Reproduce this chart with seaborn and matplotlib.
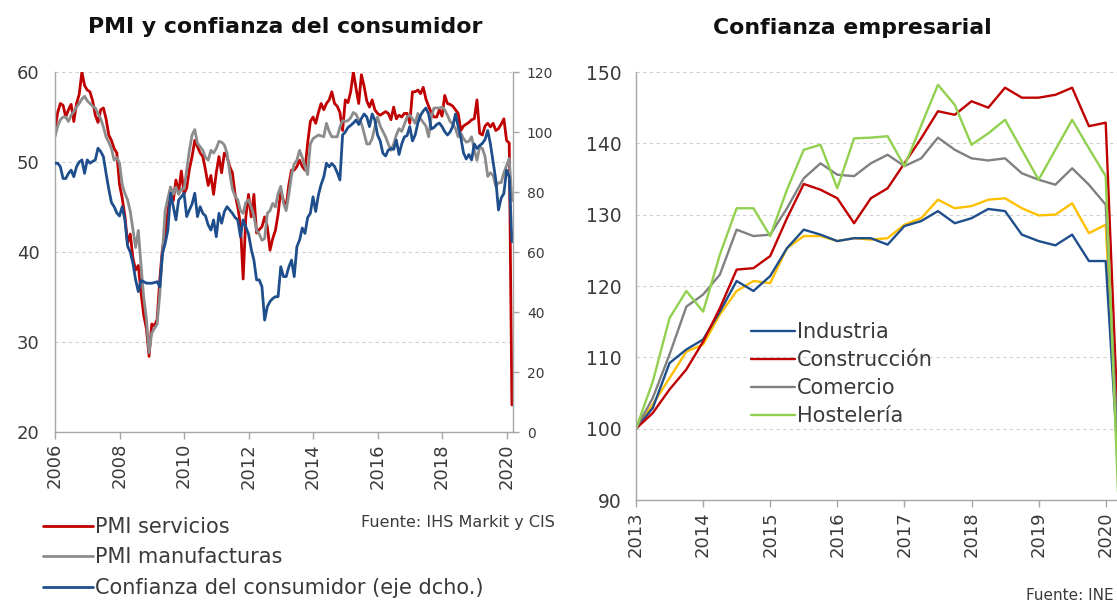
import numpy as np
import pandas as pd
import matplotlib
matplotlib.use("Agg")
import matplotlib.pyplot as plt
import seaborn as sns

# PMI y confianza del consumidor: datos mensuales, ene-2006 a mar-2020
pmi_servicios = [
    53.6, 55.5, 56.5, 56.3, 55.0, 55.8, 56.4, 54.5, 56.5, 57.5, 60.0, 58.5,
    58.0, 57.8, 56.8, 55.2, 54.4, 55.8, 56.0, 54.8, 53.0, 52.4, 51.5, 51.0,
    47.5, 46.0, 44.0, 41.0, 42.0, 39.3, 38.0, 38.5, 35.5, 33.0, 31.5, 28.4,
    32.0, 31.8, 32.5, 37.0, 40.5, 42.0, 44.5, 47.2, 45.7, 48.0, 46.6, 49.0,
    46.5, 47.1, 49.2, 50.6, 52.4, 51.7, 51.0, 50.6, 49.1, 47.4, 48.5, 46.4,
    48.8, 50.6, 48.8, 51.0, 50.6, 49.5, 48.8, 46.4, 45.0, 43.0, 37.0, 43.9,
    46.4, 43.9, 46.4, 42.1, 42.5, 42.8, 43.9, 42.8, 40.2, 41.5, 42.4, 44.2,
    46.8, 45.7, 45.0, 47.5, 49.1, 49.1, 49.5, 50.2, 49.5, 49.1, 52.1, 54.5,
    55.0, 54.3, 55.5, 56.5, 55.8, 56.5, 56.9, 57.8, 56.5, 56.2, 55.5, 53.5,
    56.9, 56.6, 57.8, 60.0, 58.2, 56.5, 59.7, 58.4, 56.8, 56.1, 56.9, 55.8,
    55.4, 55.2, 55.4, 55.6, 55.4, 54.7, 56.1, 54.8, 55.2, 55.0, 55.4, 55.4,
    54.3, 57.8, 57.8, 58.0, 57.6, 58.3, 57.0, 56.2, 55.5, 55.0, 55.0, 55.8,
    55.1, 57.4, 56.5, 56.4, 56.2, 55.8, 55.4, 53.5, 54.0, 54.2, 54.4, 54.7,
    54.8, 56.9, 53.2, 53.0, 54.0, 54.3, 53.9, 54.3, 53.5, 53.7, 54.2, 54.8,
    52.4, 52.1, 23.0,
]
pmi_manufacturas = [
    52.8, 54.0, 54.7, 55.0, 55.0, 54.5, 55.2, 55.6, 56.1, 56.5, 57.0, 57.3,
    56.8, 56.5, 56.2, 56.0, 55.4, 54.8, 53.9, 52.8, 52.2, 51.5, 50.2, 50.5,
    49.9, 47.5, 46.5, 45.8, 44.5, 42.5, 40.5, 42.4, 38.5, 35.0, 32.6, 28.8,
    31.0, 31.5, 32.0, 35.4, 40.1, 44.6, 46.0, 47.2, 46.4, 47.2, 46.4, 47.0,
    47.0, 49.1, 51.3, 53.0, 53.6, 52.1, 51.7, 51.3, 50.5, 50.2, 51.3, 51.0,
    51.5, 52.3, 52.2, 51.9, 51.0, 48.8, 47.0, 46.2, 45.8, 44.6, 44.3, 45.5,
    45.8, 45.0, 44.0, 42.4, 42.0, 41.3, 41.5, 44.3, 44.6, 45.4, 45.0, 46.5,
    47.3, 45.4, 44.6, 46.4, 48.5, 49.8, 50.2, 51.3, 50.5, 49.5, 48.6, 52.0,
    52.6, 52.8, 53.0, 52.9, 52.8, 54.3, 53.4, 52.8, 52.8, 52.8, 53.9, 54.6,
    54.5, 54.6, 54.9, 55.5, 55.3, 54.7, 54.3, 53.2, 52.0, 52.0, 52.6, 53.9,
    55.0, 54.0, 53.4, 52.8, 52.0, 51.3, 52.0, 53.0, 53.7, 53.4, 54.2, 55.0,
    55.2, 54.8, 54.3, 55.4, 54.8, 54.4, 54.0, 52.8, 55.0, 56.0, 56.0, 56.0,
    56.1, 55.8, 55.2, 54.5, 54.2, 53.7, 52.8, 53.2, 52.6, 52.2, 52.3, 52.8,
    51.3, 50.2, 51.7, 51.5, 50.6, 48.4, 48.8, 48.5, 47.3, 47.7, 47.7, 48.8,
    49.6, 50.4, 45.7,
]
confianza_consumidor = [
    89.6, 89.6, 88.4, 84.5, 84.5, 86.2, 87.3, 85.1, 88.4, 90.0, 90.7, 86.2,
    90.7, 89.6, 90.2, 90.7, 94.6, 93.5, 91.8, 86.2, 81.0, 76.5, 75.1, 73.0,
    72.0, 75.1, 70.7, 62.0, 60.0, 56.2, 50.7, 46.8, 50.5, 50.1, 49.6, 49.6,
    49.6, 49.8, 50.1, 48.4, 59.6, 62.9, 67.3, 79.6, 75.1, 70.7, 77.3, 78.4,
    79.6, 71.8, 74.0, 76.0, 79.6, 71.8, 75.1, 72.9, 72.0, 69.0, 67.3, 70.7,
    65.1, 72.9, 69.6, 73.4, 75.1, 74.0, 72.9, 71.5, 70.7, 65.1, 70.7, 68.4,
    66.0, 61.0, 57.3, 50.7, 50.7, 48.4, 37.3, 41.8, 43.5, 44.5, 45.1, 45.1,
    55.1, 51.8, 51.8, 55.0, 57.3, 51.8, 61.8, 64.0, 68.0, 66.2, 71.5, 72.9,
    78.4, 73.5, 79.0, 82.5, 85.0, 89.6, 88.4, 89.5, 88.5, 86.5, 84.0, 99.0,
    100.0, 101.5, 102.2, 103.0, 104.0, 102.5, 104.5, 106.0, 105.0, 101.8, 106.0, 104.0,
    99.0, 97.0, 92.9, 92.0, 94.0, 94.5, 94.2, 97.3, 92.5, 96.0, 98.4, 98.8,
    101.8, 97.0, 99.0, 103.0, 105.5, 107.0, 108.0, 106.0, 101.0, 101.5, 102.5, 103.0,
    101.8, 100.1, 99.0, 100.0, 102.0, 106.0, 101.8, 98.0, 93.0, 91.0, 92.5, 90.7,
    96.0, 94.5, 95.5, 96.2, 97.5, 100.5, 96.0, 90.0, 84.0, 74.0, 78.0, 79.5,
    87.3, 85.1, 63.4,
]

# Confianza empresarial: trimestral, 1T2013 = 100 (el ultimo trimestre queda fuera del recorte)
industria = [100, 102.9, 109.2, 111.1, 112.5, 116.4, 120.7, 119.3, 121.4, 125.3,
             127.9, 127.2, 126.3, 126.7, 126.7, 125.8, 128.4, 129.1, 130.5, 128.8,
             129.5, 130.8, 130.5, 127.2, 126.3, 125.7, 127.2, 123.5, 123.5, 85]
construccion = [100, 102.2, 105.5, 108.3, 112.2, 116.9, 122.3, 122.5, 124.2, 129.5,
                134.3, 133.5, 132.3, 128.8, 132.3, 133.7, 137.2, 140.7, 144.5, 144.0,
                145.9, 145.0, 147.8, 146.4, 146.4, 146.8, 147.8, 142.4, 142.9, 85]
comercio = [100, 104.3, 110.4, 117.1, 118.8, 121.6, 127.9, 127.0, 127.2, 130.9,
            135.1, 137.2, 135.6, 135.4, 137.2, 138.4, 136.8, 137.9, 140.8, 139.1,
            137.9, 137.6, 137.9, 135.8, 134.9, 134.2, 136.5, 134.2, 131.4, 85]
hosteleria = [100, 106.6, 115.5, 119.3, 116.4, 124.4, 130.9, 130.9, 127.0, 133.5,
              139.1, 139.8, 133.7, 140.7, 140.8, 141.0, 136.8, 142.5, 148.2, 145.4,
              139.8, 141.4, 143.3, 139.1, 134.9, 139.1, 143.3, 139.3, 135.4, 75]
servicios = [100, 103.4, 107.1, 110.8, 111.8, 116.0, 119.3, 120.7, 120.4, 125.3,
             127.0, 127.0, 126.3, 126.7, 126.5, 126.7, 128.6, 129.5, 132.1, 130.9,
             131.2, 132.1, 132.3, 130.9, 129.9, 130.0, 131.6, 127.4, 128.6, 85]

ROJO = "#C00000"
GRIS = "#8C8C8C"
AZUL = "#1F4E8C"
VERDE = "#92D050"
AMARILLO = "#FFC000"
EJE = "#A6A6A6"
TEXTO = "#3A3A3A"

sns.set_theme(style="white")
plt.rcParams["font.family"] = ["DejaVu Sans"]

W, H = 1117, 602
fig = plt.figure(figsize=(W / 100, H / 100), dpi=100)

# ---------------- panel izquierdo ----------------
mensual = pd.DataFrame({
    "fecha": 2006 + np.arange(len(pmi_servicios)) / 12,
    "PMI servicios": pmi_servicios,
    "PMI manufacturas": pmi_manufacturas,
    "Confianza del consumidor (eje dcho.)": confianza_consumidor,
})

ax1 = fig.add_axes([55 / W, 1 - 432 / H, (513 - 55) / W, 360 / H])
ax2 = ax1.twinx()

sns.lineplot(data=mensual, x="fecha", y="PMI servicios", ax=ax1, color=ROJO,
             lw=2.0, label="PMI servicios")
sns.lineplot(data=mensual, x="fecha", y="PMI manufacturas", ax=ax1, color=GRIS,
             lw=2.0, label="PMI manufacturas")
sns.lineplot(data=mensual, x="fecha", y="Confianza del consumidor (eje dcho.)",
             ax=ax2, color=AZUL, lw=2.0, label="Confianza del consumidor (eje dcho.)")
for a in (ax1, ax2):
    if a.get_legend() is not None:
        a.get_legend().remove()
    a.set_xlabel("")
    a.set_ylabel("")

ax1.set_xlim(2006, 2020.2)
ax1.set_ylim(20, 60)
ax1.set_yticks(range(20, 61, 10))
ax1.set_xticks(range(2006, 2021, 2))
ax1.set_xticklabels([str(y) for y in range(2006, 2021, 2)], rotation=90)
ax1.yaxis.grid(True, linestyle=(0, (3, 3)), color="#CFCFCF", lw=0.8)
ax1.xaxis.grid(False)
ax1.tick_params(axis="y", length=0, pad=11, labelsize=13, labelcolor=TEXTO)
ax1.tick_params(axis="x", length=5, width=1, color=EJE, direction="out",
                pad=3, labelsize=13, labelcolor=TEXTO, bottom=True)

ax2.set_ylim(0, 120)
ax2.set_yticks(range(0, 121, 20))
ax2.tick_params(axis="y", length=4, width=1, color=EJE, direction="out",
                pad=6, labelsize=10, labelcolor=TEXTO, right=True)

for a in (ax1, ax2):
    a.spines["top"].set_visible(False)
    for s in ("left", "bottom", "right"):
        a.spines[s].set_color(EJE)
        a.spines[s].set_linewidth(1.0)
ax1.spines["right"].set_visible(False)
ax2.spines["left"].set_visible(False)
ax2.spines["bottom"].set_visible(False)

h1, l1 = ax1.get_legend_handles_labels()
h2, l2 = ax2.get_legend_handles_labels()
fig.legend(h1 + h2, l1 + l2, loc="upper left", bbox_to_anchor=(43 / W, 1 - 517 / H),
           frameon=False, fontsize=15, handlelength=2.4, handletextpad=0.1,
           labelspacing=0.5, borderpad=0, borderaxespad=0, labelcolor=TEXTO)

fig.text(285 / W, 1 - 27 / H, "PMI y confianza del consumidor", ha="center",
         va="center", fontsize=15.8, fontweight="bold", color="#111111")
fig.text(555 / W, 1 - 523 / H, "Fuente: IHS Markit y CIS", ha="right",
         va="center", fontsize=11.5, color=TEXTO)

# ---------------- panel derecho ----------------
trimestral = pd.DataFrame({
    "fecha": 2013 + np.arange(len(industria)) / 4,
    "Industria": industria,
    "Construcción": construccion,
    "Comercio": comercio,
    "Hostelería": hosteleria,
    "Servicios": servicios,
})

x_der = 1160
ax3 = fig.add_axes([636 / W, 1 - 500 / H, (x_der - 636) / W, 428 / H])
sns.lineplot(data=trimestral, x="fecha", y="Servicios", ax=ax3, color=AMARILLO,
             lw=1.7, legend=False)
sns.lineplot(data=trimestral, x="fecha", y="Industria", ax=ax3, color=AZUL,
             lw=1.7, label="Industria")
sns.lineplot(data=trimestral, x="fecha", y="Construcción", ax=ax3, color=ROJO,
             lw=1.7, label="Construcción")
sns.lineplot(data=trimestral, x="fecha", y="Comercio", ax=ax3, color="#808080",
             lw=1.7, label="Comercio")
sns.lineplot(data=trimestral, x="fecha", y="Hostelería", ax=ax3, color=VERDE,
             lw=1.7, label="Hostelería")
ax3.set_xlabel("")
ax3.set_ylabel("")
ax3.set_xlim(2013, 2013 + (x_der - 636) / 67.1)
ax3.set_ylim(90, 150)
ax3.set_yticks(range(90, 151, 10))
ax3.set_xticks(range(2013, 2021))
ax3.set_xticklabels([str(y) for y in range(2013, 2021)], rotation=90)
ax3.yaxis.grid(True, linestyle=(0, (3, 3)), color="#CFCFCF", lw=0.8)
ax3.xaxis.grid(False)
ax3.tick_params(axis="y", length=0, pad=10, labelsize=13.5, labelcolor=TEXTO)
ax3.tick_params(axis="x", length=5, width=1, color=EJE, direction="out",
                pad=3, labelsize=13, labelcolor=TEXTO, bottom=True)
for s in ("top", "right"):
    ax3.spines[s].set_visible(False)
for s in ("left", "bottom"):
    ax3.spines[s].set_color(EJE)
    ax3.spines[s].set_linewidth(1.0)

hs, ls = ax3.get_legend_handles_labels()
ax3.legend(hs, ls, loc="upper left", bbox_to_anchor=(751 / W, 1 - 322 / H),
           bbox_transform=fig.transFigure, frameon=False, fontsize=15,
           handlelength=2.1, handletextpad=0.1, labelspacing=0.39,
           borderpad=0, borderaxespad=0, labelcolor=TEXTO)

fig.text(852 / W, 1 - 28 / H, "Confianza empresarial", ha="center",
         va="center", fontsize=15.8, fontweight="bold", color="#111111")
fig.text(1114 / W, 1 - 595 / H, "Fuente: INE", ha="right", va="center",
         fontsize=11, color=TEXTO)

fig.savefig("out.png", dpi=100)
